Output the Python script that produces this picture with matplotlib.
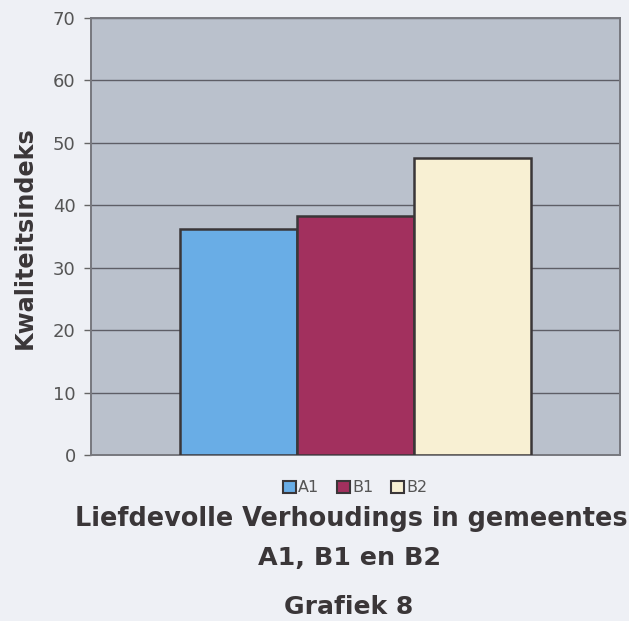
import matplotlib.pyplot as plt
from matplotlib.patches import Patch

# data
series = ["A1", "B1", "B2"]
values = [36.2, 38.3, 47.6]
colors = ["#69ade6", "#a2305e", "#f8f0d3"]
yticks = [0, 10, 20, 30, 40, 50, 60, 70]

W, H = 629, 621
plt.rcParams['font.family'] = ['DejaVu Sans']

fig = plt.figure(figsize=(W / 100, H / 100), dpi=100, facecolor="#eef0f5")
ax = fig.add_axes([91 / W, 1 - 455 / H, 529 / W, 437 / H])
ax.set_facecolor("#bac1cc")

pos = [i - 1 for i in range(len(series))]
ax.bar(pos, values, width=1.0, color=colors, edgecolor="#3a3638", linewidth=1.8, zorder=3)

ax.set_xlim(-2.265, 2.265)
ax.set_ylim(0, 70)
ax.set_yticks(yticks)
ax.set_xticks([])
ax.yaxis.grid(True, color="#5e5e66", linewidth=1.0, zorder=1)
ax.tick_params(axis="y", length=5, width=1, color="#666666", labelcolor="#555555",
               labelsize=13, pad=6)
for s in ax.spines.values():
    s.set_color("#77787e")
    s.set_linewidth(1.4)

fig.text(25 / W, 1 - 238 / H, "Kwaliteitsindeks", rotation=90, ha="center", va="center",
         fontsize=17.2, fontweight="bold", color="#3a3638")

handles = [Patch(facecolor=c, edgecolor="#3a3638", linewidth=1.5) for c in colors]
fig.legend(handles, series, loc="center", bbox_to_anchor=(355 / W, 1 - 488 / H), ncol=3,
           frameon=False, fontsize=11.5, handlelength=0.8, handleheight=0.8,
           handletextpad=0.15, columnspacing=1.1, labelcolor="#555555")

fig.text(351 / W, 1 - 519 / H, "Liefdevolle Verhoudings in gemeentes", ha="center", va="center",
         fontsize=18.4, fontweight="bold", color="#3a3638")
fig.text(350 / W, 1 - 558 / H, "A1, B1 en B2", ha="center", va="center",
         fontsize=18.3, fontweight="bold", color="#3a3638")
fig.text(349 / W, 1 - 607 / H, "Grafiek 8", ha="center", va="center",
         fontsize=18, fontweight="bold", color="#3a3638")

fig.savefig("out.png", dpi=100, facecolor=fig.get_facecolor())
